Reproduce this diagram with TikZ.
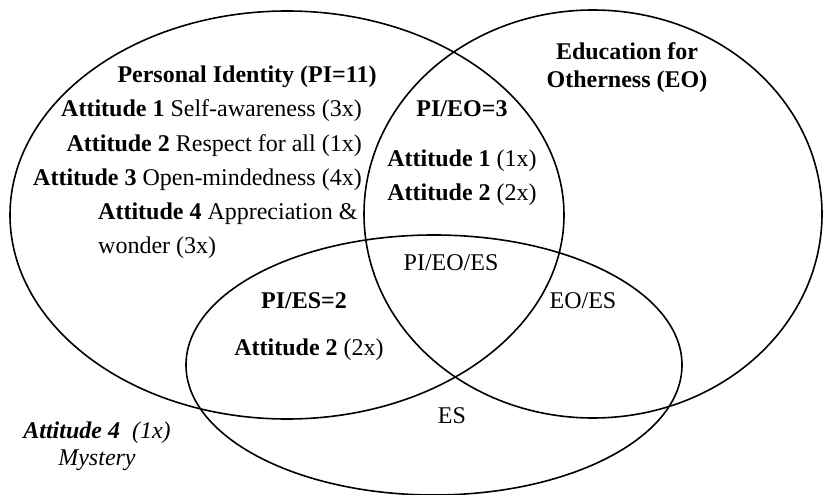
\documentclass[tikz,border=0pt]{standalone}
\usepackage{fontspec}
\setmainfont{Liberation Serif}
\begin{document}
\begin{tikzpicture}[x=1pt,y=-1pt]
\tikzset{
  venn/.style={draw=black, line width=1.6pt},
  lbl/.style={font=\fontsize{24}{28}\selectfont, inner sep=0pt, anchor=base},
  lblr/.style={lbl, anchor=base east},
  lbll/.style={lbl, anchor=base west}
}
\useasboundingbox (0,0) rectangle (823,495);
% sets
\draw[venn] (287,215) ellipse [x radius=277pt, y radius=204pt];
\draw[venn] (593,214) ellipse [x radius=229pt, y radius=204pt];
\draw[venn] (434,365) ellipse [x radius=248pt, y radius=130pt];
% Personal Identity
\node[lbl]  (pi)   at (247,83)  {\bfseries Personal Identity (PI=11)};
\node[lblr] (pa1)  at (362,117) {\textbf{Attitude 1} Self-awareness (3x)};
\node[lblr] (pa2)  at (362,151) {\textbf{Attitude 2} Respect for all (1x)};
\node[lblr] (pa3)  at (362,185) {\textbf{Attitude 3} Open-mindedness (4x)};
\node[lbll] (pa4)  at (98,219)  {\textbf{Attitude 4} Appreciation \&};
\node[lbll] (pa4b) at (98,253)  {wonder (3x)};
% Education for Otherness
\node[lbl] (eo1) at (627,60) {\bfseries Education for};
\node[lbl] (eo2) at (627,88) {\bfseries Otherness (EO)};
% PI/EO
\node[lbl] (pieo)  at (462,117) {\bfseries PI/EO=3};
\node[lbl] (pieo1) at (462,166) {\textbf{Attitude 1} (1x)};
\node[lbl] (pieo2) at (462,200) {\textbf{Attitude 2} (2x)};
% other regions
\node[lbl] (pieoes) at (451,270) {PI/EO/ES};
\node[lbl] (eoes)   at (583,308) {EO/ES};
\node[lbl] (pies)   at (304,308) {\bfseries PI/ES=2};
\node[lbl] (pies1)  at (309,355) {\textbf{Attitude 2} (2x)};
\node[lbl] (es)     at (452,423) {ES};
% outside
\node[lbl] (myst1) at (97,438) {\itshape\textbf{Attitude 4}\ \ (1x)};
\node[lbl] (myst2) at (97,465) {\itshape Mystery};
\end{tikzpicture}
\end{document}
